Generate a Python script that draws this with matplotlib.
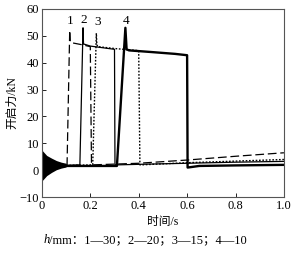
import matplotlib.pyplot as plt

# curve data (time in s, force in kN)
t1 = [0.10, 0.104, 0.115, 0.117, 0.12, 0.16, 0.20, 0.205, 0.21, 0.40, 0.60, 0.80, 1.00]
f1 = [1.8, 2.0, 52.0, 48.0, 47.5, 46.8, 46.0, 2.0, 2.0, 2.6, 3.8, 5.2, 6.5]

t2 = [0.10, 0.157, 0.170, 0.172, 0.20, 0.25, 0.30, 0.302, 0.31, 0.40, 0.60, 0.80, 1.00]
f2 = [1.8, 2.0, 53.0, 47.0, 46.2, 45.6, 45.0, 2.0, 2.0, 2.2, 2.6, 3.0, 3.3]

t3 = [0.10, 0.21, 0.225, 0.227, 0.23, 0.30, 0.40, 0.405, 0.41, 0.60, 0.80, 1.00]
f3 = [1.8, 2.0, 51.0, 47.0, 46.0, 45.3, 44.5, 2.0, 2.0, 2.8, 3.4, 4.0]

t4 = [0.10, 0.31, 0.345, 0.35, 0.36, 0.45, 0.55, 0.60, 0.602, 0.65, 0.80, 1.00]
f4 = [1.6, 1.6, 53.0, 45.0, 44.6, 44.0, 43.3, 42.8, 1.0, 1.6, 1.8, 2.0]

# envelope of the starting oscillation
t_osc = [0.0, 0.01, 0.02, 0.04, 0.06, 0.08, 0.10]
osc_hi = [7.5, 6.5, 5.5, 4.5, 3.6, 3.0, 2.6]
osc_lo = [-4.0, -3.0, -2.0, -0.8, 0.2, 0.8, 1.2]

labels = ["1", "2", "3", "4"]
label_x = [0.115, 0.172, 0.229, 0.348]
label_y = [55.5, 56.0, 55.0, 55.5]

plt.rcParams['font.family'] = ['Liberation Serif', 'Noto Sans CJK SC']
plt.rcParams['font.size'] = 8

fig = plt.figure(figsize=(2.97, 2.57), dpi=100)
ax = fig.add_axes([0.141, 0.233, 0.815, 0.732])

ax.fill_between(t_osc, osc_lo, osc_hi, color="black", lw=0)
ax.plot(t1, f1, color="black", lw=0.9, dashes=(7, 3))
ax.plot(t2, f2, color="black", lw=0.9)
ax.plot(t3, f3, color="black", lw=1.0, ls=(0, (1.2, 1.2)))
ax.plot(t4, f4, color="black", lw=1.7)

for lab, x, y in zip(labels, label_x, label_y):
    ax.text(x, y, lab, ha="center", va="center", fontsize=9.5)

ax.set_xlim(0, 1.0)
ax.set_ylim(-10, 60)
ax.set_xticks([0, 0.2, 0.4, 0.6, 0.8, 1.0])
ax.set_xticklabels(["0", "0.2", "0.4", "0.6", "0.8", "1.0"])
ax.set_yticks([-10, 0, 10, 20, 30, 40, 50, 60])
ax.tick_params(direction="in", length=3, width=0.6, pad=2, labelsize=9)
for sp in ax.spines.values():
    sp.set_color("#555555")
    sp.set_linewidth(0.8)

ax.set_ylabel("开启力/kN", fontsize=8.5, labelpad=1)
ax.set_xlabel("时间/s", fontsize=8.5, labelpad=3)

fig.text(0.145, 0.055, "h", fontstyle="italic", fontsize=9)
fig.text(0.166, 0.055, "/mm：1—30；2—20；3—15；4—10", fontsize=9)

plt.savefig("out.png", dpi=100)
